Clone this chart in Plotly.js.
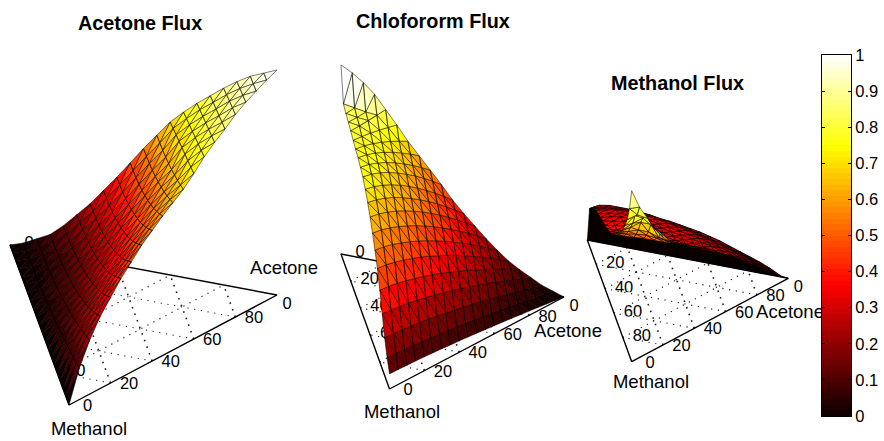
<!DOCTYPE html>
<html><head><meta charset="utf-8">
<script src="https://cdn.plot.ly/plotly-3.0.1.min.js"></script>
<style>html,body{margin:0;padding:0;background:#fff}#c{width:884px;height:441px}</style>
</head><body><div id="c"></div>
<script>
// Flux values. Triangular tables: row = share of one component (in 5% steps),
// column = share of another one (in 5% steps).
const acetoneFlux = [
[0,0,0,0,0,0,0,0,0,0,0,0,0,0,0,0,0,0,0,0,0],
[.02,.02,.021,.023,.025,.028,.032,.036,.041,.047,.053,.06,.068,.076,.085,.095,.105,.116,.128,.14],
[.05,.051,.052,.055,.059,.065,.071,.079,.088,.098,.109,.121,.134,.149,.165,.182,.2,.219,.24],
[.08,.081,.083,.087,.093,.101,.11,.121,.133,.147,.163,.181,.2,.22,.243,.267,.293,.32],
[.13,.131,.134,.139,.146,.155,.165,.178,.193,.209,.228,.248,.271,.295,.321,.35,.38],
[.19,.191,.194,.2,.208,.218,.23,.244,.261,.28,.301,.324,.35,.378,.408,.44],
[.25,.251,.255,.261,.27,.281,.294,.31,.328,.349,.372,.398,.426,.457,.49],
[.32,.321,.325,.332,.341,.353,.367,.384,.403,.425,.45,.478,.507,.54],
[.39,.391,.395,.402,.411,.423,.438,.455,.474,.497,.522,.55,.58],
[.465,.466,.47,.476,.485,.497,.511,.528,.547,.569,.593,.62],
[.54,.541,.545,.55,.558,.569,.581,.596,.614,.633,.655],
[.61,.611,.614,.619,.626,.635,.646,.658,.673,.69],
[.68,.687,.694,.701,.708,.714,.721,.728,.735],
[.735,.742,.749,.756,.764,.771,.778,.785],
[.785,.792,.798,.805,.812,.818,.825],
[.83,.836,.842,.848,.854,.86],
[.875,.881,.888,.894,.9],
[.915,.92,.925,.93],
[.95,.952,.955],
[.975,.98],
[1]];
const chloroformFlux = [
[.08,.079,.077,.075,.073,.07,.067,.063,.06,.056,.052,.047,.043,.038,.033,.028,.023,.017,.012,.006,0],
[.13,.129,.126,.123,.119,.115,.111,.105,.1,.094,.088,.081,.075,.068,.06,.053,.045,.037,.029,.02],
[.2,.198,.194,.189,.183,.177,.169,.161,.153,.143,.134,.124,.113,.102,.09,.078,.066,.053,.04],
[.29,.287,.281,.274,.265,.255,.244,.232,.219,.205,.191,.176,.16,.143,.126,.108,.089,.07],
[.38,.376,.368,.357,.345,.331,.316,.299,.281,.262,.242,.22,.198,.175,.151,.126,.1],
[.46,.454,.444,.431,.415,.398,.378,.356,.334,.309,.283,.256,.227,.198,.167,.135],
[.52,.514,.502,.486,.468,.448,.424,.4,.373,.345,.315,.283,.25,.216,.18],
[.575,.568,.554,.537,.516,.493,.467,.439,.408,.376,.342,.307,.269,.23],
[.625,.617,.602,.583,.56,.534,.505,.474,.44,.404,.366,.326,.285],
[.665,.656,.64,.619,.594,.565,.534,.5,.464,.424,.383,.34],
[.7,.69,.673,.651,.624,.594,.56,.524,.485,.444,.4],
[.73,.72,.703,.68,.653,.622,.589,.552,.512,.47],
[.745,.736,.719,.697,.671,.641,.609,.573,.535],
[.76,.751,.736,.715,.691,.663,.633,.6],
[.77,.763,.75,.733,.713,.69,.665],
[.78,.776,.77,.761,.751,.74],
[.795,.796,.8,.804,.81],
[.805,.806,.81,.88],
[.815,.82,.93],
[.83,.97],
[1]];
const methanolFlux = [
[0,0,0,0,0,0,0,0,0,0,0,0,0,0,0,0,0,0,0,0,0],
[.22,.25,.26,.26,.26,.255,.25,.24,.235,.225,.215,.205,.19,.175,.155,.135,.115,.095,.07,.04],
[.26,.27,.275,.275,.27,.265,.26,.25,.24,.23,.22,.21,.195,.18,.165,.15,.13,.105,.08],
[.29,.305,.315,.32,.32,.315,.31,.3,.29,.28,.265,.25,.235,.22,.2,.18,.15,.125],
[.315,.33,.34,.345,.345,.34,.33,.32,.31,.3,.285,.27,.255,.24,.22,.195,.17],
[.33,.345,.355,.36,.36,.35,.34,.33,.32,.31,.3,.285,.27,.255,.235,.215],
[.345,.36,.37,.37,.365,.36,.35,.34,.33,.32,.31,.3,.285,.27,.255],
[.36,.37,.38,.38,.375,.37,.36,.35,.34,.33,.32,.31,.3,.295],
[.37,.38,.39,.39,.385,.38,.37,.36,.35,.345,.34,.335,.33],
[.385,.39,.395,.4,.395,.39,.385,.38,.375,.37,.37,.37],
[.405,.41,.415,.415,.41,.41,.405,.405,.405,.41,.41],
[.43,.43,.435,.435,.44,.44,.44,.44,.445,.445],
[.46,.46,.465,.47,.47,.47,.475,.475,.475],
[.5,.51,.52,.525,.52,.515,.51,.51],
[.54,.56,.58,.58,.56,.55,.545],
[.585,.62,.66,.66,.62,.58],
[.63,.68,.72,.68,.63],
[.69,.76,.78,.7],
[.76,.8,.79],
[.86,.88],
[1]];
const ternaryTicks = [0,20,40,60,80];
const colorbarTicks = [0,.1,.2,.3,.4,.5,.6,.7,.8,.9,1];

// View of each panel: where the corners of the composition triangle land on the page,
// and how many pixels one unit of flux rises.
const FONT = 'Arial, "Liberation Sans", sans-serif';
const panels = [
 {title:'Acetone Flux', tx:139.5, ty:23, data:acetoneFlux, corner:{row:'R',col:'B',rest:'L'},
  B:[69,405], R:[277,295], L:[10,245], H:225, acetone:[284,269], methanol:[89,430], bright:[2,2], maskLabels:false},
 {title:'Chlofororm Flux', tx:432.5, ty:21, data:chloroformFlux, corner:{row:'L',col:'R',rest:'B'},
  B:[389.5,389], R:[564,297], L:[341,254], H:189, acetone:[568,332], methanol:[402,413], bright:[2,2], maskLabels:false},
 {title:'Methanol Flux', tx:677.5, ty:83, data:methanolFlux, corner:{row:'B',col:'R',rest:'L'},
  B:[631.7,361.7], R:[788.3,278.3], L:[587.3,240], H:171, acetone:[790,313], methanol:[651,383], bright:[.55,.9], maskLabels:true}
];

// MATLAB hot(64)
const hot = [];
for (let i=1;i<=64;i++){
  const r=Math.min(1,i/24), g=Math.min(1,Math.max(0,(i-24)/24)), b=Math.min(1,Math.max(0,(i-48)/16));
  hot.push(`rgb(${Math.round(r*255)},${Math.round(g*255)},${Math.round(b*255)})`);
}
const level = z => Math.max(0,Math.min(63,Math.floor(z*64)));

const traces = [];
const baseTrace = o => Object.assign({type:'scatter',hoverinfo:'skip',showlegend:false},o);
function baseXY(p,w){ // w: barycentric weights {B,R,L}
  return [w.B*p.B[0]+w.R*p.R[0]+w.L*p.L[0], w.B*p.B[1]+w.R*p.R[1]+w.L*p.L[1]];
}
function drawBase(p){
  // tick labels (below the surface, which hides some of them)
  const tx=[],ty=[],tt=[],mx=[],my=[];
  ternaryTicks.forEach(t=>{
    const f=t/100;
    let q=baseXY(p,{B:1-f,R:f,L:0}); tx.push(q[0]+18.5); ty.push(q[1]+2); tt.push(String(t));
    q=baseXY(p,{B:f,R:0,L:1-f}); tx.push(q[0]+19); ty.push(q[1]-(p.maskLabels?0:1)); tt.push(String(t));
    mx.push(q[0]+6,q[0]+32,null); my.push(q[1]+5.5,q[1]+5.5,null);
  });
  tx.push(p.R[0]+10); ty.push(p.R[1]+10); tt.push('0');
  traces.push(baseTrace({mode:'text',x:tx,y:ty,text:tt,textposition:'middle center',
    textfont:{family:FONT,size:16.5,color:'#000'}}));
  traces.push(baseTrace({mode:'text',x:[p.acetone[0],p.methanol[0]],y:[p.acetone[1],p.methanol[1]],text:['Acetone','Methanol'],
    textposition:'middle center',textfont:{family:FONT,size:18.5,color:'#000'}}));
  // the white base plane covers the feet of the labels that lie inside it
  if(p.maskLabels) traces.push(baseTrace({mode:'lines',x:mx,y:my,line:{color:'#fff',width:4,simplify:false}}));
  // dotted grid
  const grid=(key)=>{
    const gx=[],gy=[];
    const others=['B','R','L'].filter(k=>k!==key);
    ternaryTicks.slice(1).forEach(t=>{
      const f=t/100,a={},b={};
      a[key]=f;a[others[0]]=1-f;a[others[1]]=0;
      b[key]=f;b[others[0]]=0;b[others[1]]=1-f;
      const s=baseXY(p,a),e=baseXY(p,b);
      gx.push(s[0],e[0],null);gy.push(s[1],e[1],null);
    });
    const bold=key==='R';
    traces.push(baseTrace({mode:'lines',x:gx,y:gy,
      line:{color:'#222',width:bold?1.6:1.2,dash:bold?'1.6px,5.4px':'1.2px,5.6px',simplify:false}}));
  };
  grid('B');grid('R');grid('L');
  // triangle outline
  const o=[p.B,p.R,p.L,p.B];
  traces.push(baseTrace({mode:'lines',x:o.map(v=>v[0]),y:o.map(v=>v[1]),line:{color:'#000',width:1.4,simplify:false}}));
}
function drawSurface(p){
  const N=20, node=(a,c)=>{
    const w={}; w[p.corner.row]=a/N; w[p.corner.col]=c/N; w[p.corner.rest]=(N-a-c)/N;
    const xy=baseXY(p,w), z=p.data[a][c];
    return {x:xy[0], y:xy[1]-p.H*z, z:z, b:w.B};
  };
  const tris=[];
  for(let a=0;a<N;a++) for(let c=0;c<N-a;c++){
    tris.push([node(a,c),node(a+1,c),node(a,c+1)]);
    if(c<N-a-1) tris.push([node(a+1,c),node(a,c+1),node(a+1,c+1)]);
  }
  // back to front: the corner with all methanol is nearest the viewer
  const groups=new Map();
  tris.forEach(t=>{
    const lowB=Math.min(t[0].b,t[1].b,t[2].b);
    const colorNode=(lowB>=p.bright[0] && lowB<p.bright[1])
      ? t.reduce((m,v)=>v.z>m.z?v:m,t[0])
      : t.reduce((m,v)=>v.b<m.b?v:m,t[0]);
    const lev=level(colorNode.z);
    const key=Math.round(lowB*N)*100+lev;
    if(!groups.has(key)) groups.set(key,{x:[],y:[],lev:lev});
    const g=groups.get(key);
    [t[0],t[1],t[2],t[0]].forEach(v=>{g.x.push(v.x);g.y.push(v.y);});
    g.x.push(null);g.y.push(null);
  });
  [...groups.keys()].sort((a,b)=>a-b).forEach(k=>{
    const g=groups.get(k);
    traces.push(baseTrace({mode:'lines',x:g.x,y:g.y,fill:'toself',fillcolor:hot[g.lev],
      line:{color:'rgba(0,0,0,0.85)',width:0.6,simplify:false}}));
  });
}
panels.forEach(p=>{drawBase(p);drawSurface(p);});

// colour bar
traces.push({type:'heatmap',xaxis:'x2',yaxis:'y2',x:[0],y:hot.map((_,i)=>(i+.5)/64),z:hot.map((_,i)=>[(i+.5)/64]),
  zmin:0,zmax:1,showscale:false,hoverinfo:'skip',
  colorscale:hot.map((c,i)=>[i/63,c])});

const layout={
  width:884,height:441,margin:{l:0,r:0,t:0,b:0},paper_bgcolor:'#fff',plot_bgcolor:'rgba(0,0,0,0)',showlegend:false,
  xaxis:{domain:[0,1],range:[0,884],visible:false,fixedrange:true},
  yaxis:{domain:[0,1],range:[441,0],visible:false,fixedrange:true},
  xaxis2:{domain:[822/884,851/884],anchor:'y2',showticklabels:false,ticks:'',showline:true,mirror:true,linecolor:'#000',linewidth:1,showgrid:false,zeroline:false,fixedrange:true},
  yaxis2:{domain:[25/441,386/441],anchor:'x2',side:'right',range:[0,1],tickmode:'array',tickvals:colorbarTicks,ticktext:colorbarTicks.map(String),
    ticks:'inside',ticklen:3,tickcolor:'#000',showline:true,mirror:'ticks',linecolor:'#000',linewidth:1,showgrid:false,zeroline:false,fixedrange:true,
    tickfont:{family:FONT,size:16.5,color:'#000'}},
  annotations:panels.map(p=>({xref:'x',yref:'y',x:p.tx,y:p.ty,text:'<b>'+p.title+'</b>',showarrow:false,xanchor:'center',yanchor:'middle',
    font:{family:FONT,size:19.8,color:'#000'}}))
};
Plotly.newPlot('c',traces,layout,{staticPlot:true,displayModeBar:false});
</script></body></html>
